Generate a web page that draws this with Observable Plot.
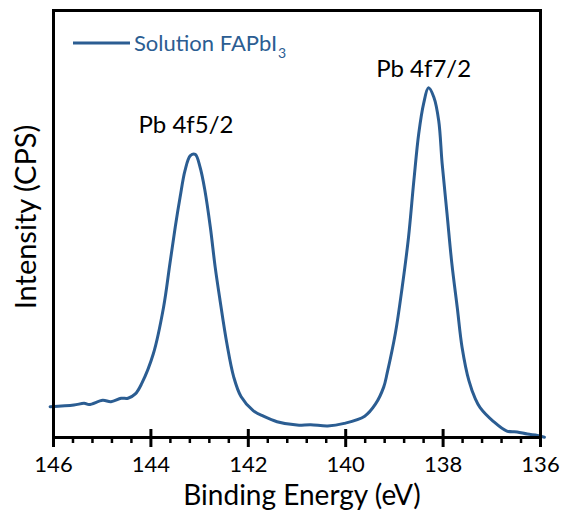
<!DOCTYPE html>
<html><head><meta charset="utf-8">
<script src="https://cdn.jsdelivr.net/npm/d3@7"></script>
<script src="https://cdn.jsdelivr.net/npm/@observablehq/plot@0.6"></script>
<style>body{margin:0;background:#fff}</style>
</head><body><div id="chart"></div>
<script>
const energy = [146.07,145.58,145.37,145.27,144.99,144.82,144.61,144.47,144.32,144.19,
  143.95,143.74,143.61,143.50,143.40,143.30,143.19,143.09,142.99,142.89,142.78,142.68,142.58,142.44,142.30,142.15,
  141.90,141.69,141.41,141.00,140.72,140.37,140.03,139.61,139.39,139.22,139.15,
  138.98,138.84,138.71,138.60,138.50,138.40,138.30,138.19,138.09,138.02,137.92,137.82,137.71,137.61,137.47,137.34,137.24,
  136.97,136.69,136.48,136.27,136.06,135.92];
const intensity = [7.2,7.6,8.0,7.7,8.7,8.4,9.2,9.2,10.2,12.6,
  19.6,30.5,40.7,49.3,56.3,62.5,66.0,66.3,63.3,57.8,49.3,39.9,32.1,22.0,14.2,9.6,
  6.3,5.0,3.7,2.9,3.0,2.7,3.3,5.0,7.8,11.8,15.0,
  24.4,35.2,46.9,60.2,71.2,78.2,81.9,79.7,74.2,64.2,52.5,40.7,30.5,21.1,13.3,9.1,7.0,
  3.8,1.5,1.3,0.8,0.5,0.05];
const majorTicks = [146,144,142,140,138,136];
const minorTicks = [145.6,145.2,144.8,144.4,143.6,143.2,142.8,142.4,141.6,141.2,140.8,140.4,139.6,139.2,138.8,138.4,137.6,137.2,136.8,136.4];
const peakLabels = ["Pb 4f5/2","Pb 4f7/2"];
const peakX = [143.28,138.40];
const peakY = [71.4,84.5];
const seriesName = "Solution FAPbI";
const seriesSub = "3";
const xTitle = "Binding Energy (eV)";
const yTitle = "Intensity (CPS)";

const color = "#2b5d92";
const data = energy.map((e,i)=>({e, v: intensity[i]}));
const labels = peakLabels.map((t,i)=>({t, x: peakX[i], y: peakY[i]}));

function legend(index, scales, values, dims) {
  const g = d3.create("svg:g");
  const x0 = dims.marginLeft + 20, y0 = dims.marginTop + 33;
  g.append("line").attr("x1", x0).attr("x2", x0 + 57).attr("y1", y0).attr("y2", y0)
    .attr("stroke", color).attr("stroke-width", 3);
  const t = g.append("text").attr("x", x0 + 61).attr("y", y0 + 8).attr("fill", color)
    .attr("text-anchor", "start").attr("font-size", 22).attr("font-family", "Lato");
  t.append("tspan").text(seriesName);
  t.append("tspan").attr("font-size", 14).attr("dy", 7).attr("dx", 1).text(seriesSub);
  return g.node();
}

const chart = Plot.plot({
  width: 565, height: 510,
  marginLeft: 53, marginRight: 25, marginTop: 10, marginBottom: 73,
  style: {fontFamily: "Lato", fontSize: "22px", background: "#fff", color: "#000"},
  x: {domain: [146, 136]},
  y: {domain: [0, 100], axis: null},
  marks: [
    Plot.axisX(minorTicks, {tickSize: 6, strokeWidth: 2.5, tickFormat: () => "", label: null}),
    Plot.axisX(majorTicks, {tickSize: -8, strokeWidth: 3, tickFormat: () => "", label: null}),
    Plot.axisX(majorTicks, {tickSize: 10, strokeWidth: 3, tickPadding: 9, tickFormat: d => d, label: null}),
    Plot.text([xTitle], {frameAnchor: "bottom", dy: 67, dx: 5, textAnchor: "middle", lineAnchor: "bottom", fontSize: 28, fill: "#000"}),
    Plot.text([yTitle], {frameAnchor: "left", dx: -38, dy: -7, rotate: -90, textAnchor: "middle", lineAnchor: "top", fontSize: 29, fill: "#000"}),
    Plot.line(data, {x: "e", y: "v", stroke: color, strokeWidth: 3, curve: "catmull-rom"}),
    Plot.text(labels, {x: "x", y: "y", text: "t", fontSize: 24, lineAnchor: "bottom", fill: "#000"}),
    Plot.frame({stroke: "#000", strokeWidth: 3}),
    legend
  ]
});
document.getElementById("chart").appendChild(chart);
</script>
</body></html>
